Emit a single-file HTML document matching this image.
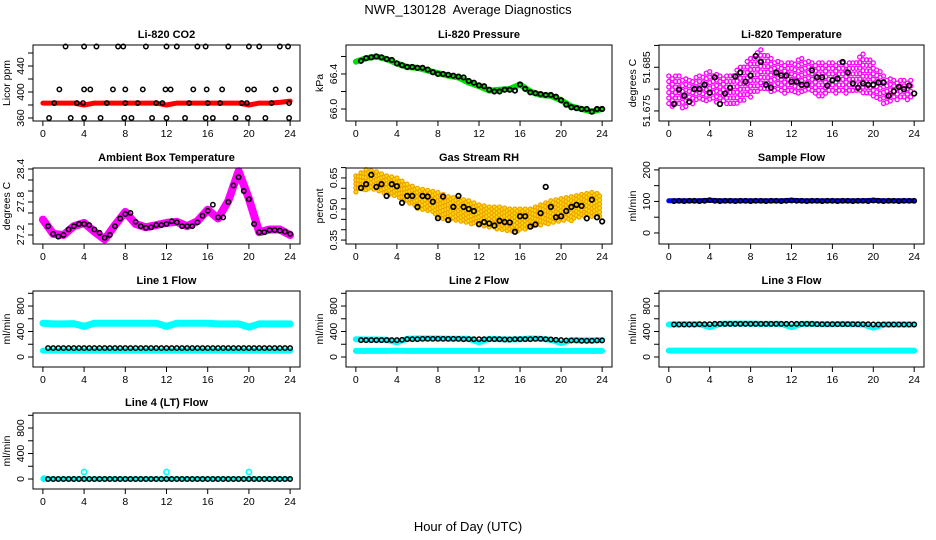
<!DOCTYPE html>
<html><head><meta charset="utf-8">
<style>
body{margin:0;background:#fff;}
svg{display:block;font-family:"Liberation Sans",Arial,sans-serif;}
</style></head>
<body>
<svg id="chart" width="936" height="540" viewBox="0 0 936 540">
<text x="468" y="14" text-anchor="middle" font-size="13" style="white-space:pre">NWR_130128  Average Diagnostics</text>
<text x="468" y="531" text-anchor="middle" font-size="13">Hour of Day (UTC)</text>
</svg>
<script>
const NS="http://www.w3.org/2000/svg";
const svg=document.getElementById('chart');
const hourTicks=[0,4,8,12,16,20,24];
const halfHours=[0.5,1,1.5,2,2.5,3,3.5,4,4.5,5,5.5,6,6.5,7,7.5,8,8.5,9,9.5,10,10.5,11,11.5,12,12.5,13,13.5,14,14.5,15,15.5,16,16.5,17,17.5,18,18.5,19,19.5,20,20.5,21,21.5,22,22.5,23,23.5,24];
const wholeHours=[0,1,2,3,4,5,6,7,8,9,10,11,12,13,14,15,16,17,18,19,20,21,22,23,24];

// CO2
const co2Hours=[2.2,4,5.2,7.3,7.8,10,12,13,15,15.8,18,20,21,23,23.8, 1.6,4,4.6,6.8,8,9.7,11.9,12.4,14.6,15.9,17.4,19.9,20.5,22.6,23.9, 0.6,2.7,4,5.6,7.9,8.6,10.6,12,13.8,15.8,16.5,18.7,19.9,21.6,23.9, 1.1,3.3,3.9,6.2,8,9.2,11,11.6,14.2,16,17.2,19.3,19.8,22.2,23.9];
const co2Vals=[470,470,470,470,470,470,470,470,470,470,470,470,470,470,470, 404,404,404,404,404,404,404,404,404,404,404,404,404,404,404, 360,360,360,360,360,360,360,360,360,360,360,360,360,360,360, 383,383,383,383,383,383,383,383,383,383,383,383,383,383,383];
const co2Red=[383,383,383,383,380,383,383,383,383,383,383,383,380,383,383,383,383,383,383,383,380,383,383,384,386];

// Pressure
const pressBand=[66.54,66.58,66.6,66.57,66.52,66.48,66.47,66.44,66.41,66.38,66.36,66.3,66.26,66.21,66.22,66.23,66.28,66.2,66.16,66.15,66.1,66.03,66.0,65.97,66.0];
const pressVals=[66.55,66.58,66.59,66.6,66.59,66.57,66.56,66.52,66.5,66.48,66.48,66.47,66.47,66.45,66.42,66.4,66.4,66.39,66.38,66.37,66.36,66.32,66.3,66.27,66.26,66.22,66.2,66.2,66.22,66.22,66.21,66.28,66.23,66.19,66.18,66.17,66.16,66.16,66.14,66.1,66.05,66.02,66.01,66.0,66.0,65.97,66.0,66.0];

// Li-820 temperature
const tempVals=[51.6766,51.6799,51.6785,51.6771,51.68,51.68,51.681,51.6792,51.6827,51.6766,51.679,51.6803,51.6829,51.6838,51.6817,51.6831,51.6876,51.6862,51.681,51.6803,51.6838,51.6831,51.6831,51.6817,51.6817,51.681,51.681,51.6843,51.6827,51.6827,51.6808,51.682,51.6824,51.6862,51.6838,51.6813,51.6803,51.6813,51.681,51.681,51.6815,51.6815,51.6785,51.6795,51.6805,51.68,51.6808,51.679];
const tempLo=[51.676,51.6755,51.676,51.677,51.677,51.677,51.676,51.677,51.678,51.679,51.679,51.679,51.679,51.679,51.679,51.678,51.679,51.679,51.679,51.679,51.678,51.676,51.677,51.677,51.677];
const tempHi=[51.683,51.683,51.682,51.683,51.684,51.683,51.683,51.685,51.687,51.689,51.687,51.686,51.686,51.687,51.686,51.686,51.686,51.686,51.686,51.688,51.686,51.683,51.682,51.682,51.682];

// Ambient box temperature
const ambBand=[27.48,27.22,27.2,27.36,27.42,27.26,27.12,27.38,27.62,27.4,27.34,27.38,27.42,27.44,27.36,27.45,27.66,27.5,27.82,28.36,27.86,27.25,27.3,27.3,27.2];
const ambVals=[27.36,27.22,27.17,27.2,27.3,27.36,27.4,27.4,27.38,27.3,27.24,27.15,27.2,27.36,27.5,27.58,27.6,27.44,27.36,27.33,27.34,27.38,27.38,27.4,27.45,27.43,27.36,27.36,27.36,27.43,27.55,27.64,27.75,27.52,27.52,27.8,28.1,28.25,28.0,27.85,27.4,27.25,27.25,27.29,27.29,27.28,27.26,27.22];

// Gas stream RH
const rhVals=[0.602,0.62,0.665,0.607,0.62,0.563,0.62,0.61,0.53,0.563,0.563,0.51,0.563,0.56,0.535,0.456,0.56,0.447,0.51,0.563,0.51,0.5,0.49,0.427,0.437,0.43,0.42,0.443,0.437,0.435,0.39,0.465,0.465,0.415,0.425,0.48,0.607,0.51,0.46,0.465,0.49,0.51,0.52,0.515,0.455,0.545,0.46,0.44];
const rhLo=[0.58,0.59,0.59,0.57,0.56,0.53,0.5,0.49,0.46,0.44,0.44,0.43,0.42,0.41,0.4,0.39,0.39,0.41,0.42,0.43,0.44,0.44,0.46,0.46,0.46];
const rhHi=[0.66,0.69,0.68,0.66,0.65,0.62,0.6,0.59,0.58,0.56,0.55,0.54,0.52,0.51,0.51,0.5,0.5,0.5,0.52,0.54,0.55,0.56,0.57,0.58,0.57];

// Flows
const sampleBand=[102,102,102,102,104,102,102,102,102,102,102,102,104,102,102,102,102,102,102,102,104,102,102,102,102];
const sampleVals=[101,102,101,102,102,101,102,104,102,101,102,102,101,102,102,101,102,102,101,102,102,101,102,103,102,102,101,102,102,101,102,102,101,102,102,101,102,102,101,103,102,101,102,102,101,102,102,102];
const line1High=[530,520,520,525,480,530,530,530,530,530,530,530,480,530,530,530,530,520,520,520,470,520,520,520,520];
const line1Low=[100,100,100,100,100,100,100,100,100,100,100,100,100,100,100,100,100,100,100,100,100,100,100,100,100];
const line1Vals=[140,140,140,140,140,140,140,140,140,140,140,140,140,140,140,140,140,140,140,140,140,140,140,140,140,140,140,140,140,140,140,140,140,140,140,140,140,140,140,140,140,140,140,140,140,140,140,140];
const line2High=[280,275,275,270,230,285,290,290,290,285,285,285,230,285,280,275,280,290,285,270,220,265,260,260,265];
const line2Low=[95,95,95,95,100,95,95,95,95,95,95,95,95,95,95,95,95,95,95,95,95,95,95,95,95];
const line2Vals=[265,265,265,265,265,265,265,265,270,280,280,280,285,285,285,285,285,285,285,285,280,280,280,280,280,280,280,280,275,275,280,280,280,280,285,285,280,275,270,265,260,260,260,255,255,255,260,260];
const line3High=[510,515,515,515,470,520,525,525,525,520,520,520,470,520,520,515,515,520,515,510,460,510,510,510,510];
const line3Low=[100,100,100,100,100,100,100,100,100,100,100,100,100,100,100,100,100,100,100,100,100,100,100,100,100];
const line3Vals=[510,510,510,510,510,515,515,515,520,520,520,520,520,520,520,520,520,520,520,520,520,520,520,520,520,520,520,520,515,515,515,515,515,515,515,515,515,515,515,510,510,510,510,510,510,510,510,510];
const line4Cyan=[0,0,0,0,0,0,0,0,0,0,0,0,0,0,0,0,0,0,0,0,0,0,0,0,0];
const line4OutHours=[0.1,4,12,20];
const line4OutVals=[5,110,110,110];
const line4Vals=[0,0,0,0,0,0,0,0,0,0,0,0,0,0,0,0,0,0,0,0,0,0,0,0,0,0,0,0,0,0,0,0,0,0,0,0,0,0,0,0,0,0,0,0,0,0,0,0];

const colLeft=[33,346,659], colW=[267,266,265], rowTop=[45,168,291,413], boxH=76;

function mk(tag,attrs,parent){const e=document.createElementNS(NS,tag);for(const k in attrs)e.setAttribute(k,attrs[k]);(parent||svg).appendChild(e);return e;}

function panel(col,row,name,title,ylab,ylim,ticks,labels){
  const L=colLeft[col],W=colW[col],T=rowTop[row],B=T+boxH;
  const g=mk('g',{});
  
  
  const sx=h=>L+W*(h+0.96)/25.92;
  const sy=v=>B-boxH*(v-ylim[0])/(ylim[1]-ylim[0]);
  const t=mk('text',{x:L+W/2,y:T-7,'text-anchor':'middle','font-size':11,'font-weight':'bold'},g);t.textContent=title;
  
  
  const plot=mk('g',{},g);
  
  
  const ax=mk('g',{stroke:'#000','stroke-width':1,fill:'none'},g);
  
  
  mk('rect',{x:L,y:T,width:W,height:boxH},ax);
  mk('line',{x1:sx(0),x2:sx(24),y1:B,y2:B},ax);
  hourTicks.forEach(h=>{mk('line',{x1:sx(h),x2:sx(h),y1:B,y2:B+5},ax);
    const tx=mk('text',{x:sx(h),y:B+16,'text-anchor':'middle','font-size':10.5,fill:'#000',stroke:'none'},g);tx.textContent=h;
    
    });
  ticks.forEach(v=>mk('line',{x1:L-5,x2:L,y1:sy(v),y2:sy(v)},ax));
  labels.forEach(v=>{const yy=sy(+v);const tx=mk('text',{x:L-9,y:yy,'text-anchor':'middle','font-size':10.5,transform:`rotate(-90 ${L-9} ${yy})`},g);tx.textContent=v;
    
    });
  const yl=mk('text',{x:L-23,y:(T+B)/2,'text-anchor':'middle','font-size':10.5,transform:`rotate(-90 ${L-23} ${(T+B)/2})`},g);yl.textContent=ylab;
  
  
  return {sx,sy,g:plot};
}
function band(p,xs,vals,color,w){
  const d=xs.map((h,i)=>(i?'L':'M')+p.sx(h).toFixed(1)+','+p.sy(vals[i]).toFixed(1)).join(' ');
  const e=mk('path',{d,stroke:color,'stroke-width':w,fill:'none','stroke-linejoin':'round','stroke-linecap':'round'},p.g);
  
  
}
function pts(p,xs,vals,color,r,sw){
  xs.forEach((h,i)=>{const c=mk('circle',{cx:p.sx(h),cy:p.sy(vals[i]),r:r||2.2,fill:'none',stroke:color,'stroke-width':sw||1.5},p.g);
    
    });
}
function cloud(p,lo,hi,fill,stroke,step,ystep,sw){
  for(let i=0;i<wholeHours.length-1;i++){
    for(let k=0;k<step;k++){
      const f=k/step,h=wholeHours[i]+f;
      const a=p.sy(lo[i]+(lo[i+1]-lo[i])*f),b=p.sy(hi[i]+(hi[i+1]-hi[i])*f);
      const off=(k%2)*ystep/2;
      for(let y=b+off;y<=a;y+=ystep){const c=mk('circle',{cx:p.sx(h),cy:y,r:2,fill:fill,stroke:stroke,'stroke-width':sw},p.g);
        
        }
    }
  }
}

// Row 1
let p=panel(0,0,'co2','Li-820 CO2','Licor ppm',[355.4,472.3],[360,380,400,420,440,460],['360','400','440']);
band(p,wholeHours,co2Red,'#ff0000',5);
pts(p,co2Hours,co2Vals,'#000');
p=panel(1,0,'pressure','Li-820 Pressure','kPa',[65.863,66.731],[66.0,66.2,66.4,66.6],['66.0','66.4']);
band(p,wholeHours,pressBand,'#00e000',6);
pts(p,halfHours,pressVals,'#000',2.2,1.8);
p=panel(2,0,'li820-temp','Li-820 Temperature','degrees C',[51.6727,51.6901],[51.675,51.680,51.685,51.690],['51.675','51.685']);
cloud(p,tempLo,tempHi,'none','#ff00ff',3,5.5,1.3);
pts(p,halfHours,tempVals,'#000',2.3,1.7);
// Row 2
p=panel(0,1,'ambient-temp','Ambient Box Temperature','degrees C',[27.036,28.418],[27.2,27.4,27.6,27.8,28.0,28.2,28.4],['27.2','27.8','28.4']);
band(p,wholeHours,ambBand,'#ff00ff',8);
pts(p,halfHours,ambVals,'#000');
p=panel(1,1,'gas-rh','Gas Stream RH','percent',[0.331,0.698],[0.35,0.40,0.45,0.50,0.55,0.60,0.65,0.70],['0.35','0.50','0.65']);
cloud(p,rhLo,rhHi,'#ffe000','#f0a000',4,4,1.2);
pts(p,halfHours,rhVals,'#000',2.3,1.7);
p=panel(2,1,'sample-flow','Sample Flow','ml/min',[-35,206],[0,50,100,150,200],['0','100','200']);
band(p,wholeHours,sampleBand,'#0000ff',5);
pts(p,halfHours,sampleVals,'#000');
// Row 3
const lf=[-157,1036],lt=[0,200,400,600,800,1000],ll=['0','400','800'];
p=panel(0,2,'line1-flow','Line 1 Flow','ml/min',lf,lt,ll);
band(p,wholeHours,line1High,'#00ffff',7);
band(p,wholeHours,line1Low,'#00ffff',6);
pts(p,halfHours,line1Vals,'#000');
p=panel(1,2,'line2-flow','Line 2 Flow','ml/min',lf,lt,ll);
band(p,wholeHours,line2High,'#00ffff',6);
band(p,wholeHours,line2Low,'#00ffff',6);
pts(p,halfHours,line2Vals,'#000');
p=panel(2,2,'line3-flow','Line 3 Flow','ml/min',lf,lt,ll);
band(p,wholeHours,line3Low,'#00ffff',6);
band(p,wholeHours,line3High,'#00ffff',6);
pts(p,halfHours,line3Vals,'#000');
// Row 4
p=panel(0,3,'line4-flow','Line 4 (LT) Flow','ml/min',lf,lt,ll);
band(p,wholeHours,line4Cyan,'#00ffff',5);
pts(p,line4OutHours,line4OutVals,'#00ffff',2.6,1.6);
pts(p,halfHours,line4Vals,'#000');
</script>
</body></html>
